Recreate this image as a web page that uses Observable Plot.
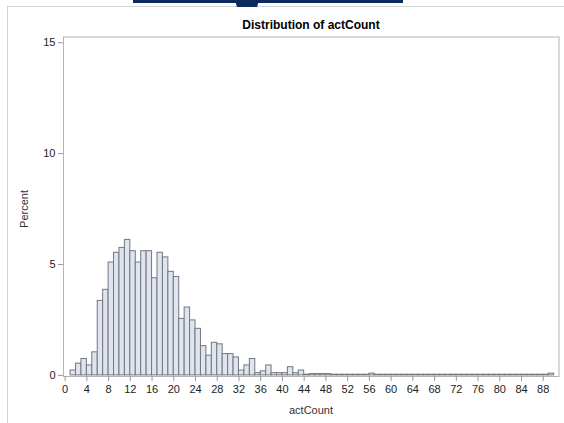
<!DOCTYPE html>
<html>
<head>
<meta charset="utf-8">
<script src="https://cdn.jsdelivr.net/npm/d3@7"></script>
<script src="https://cdn.jsdelivr.net/npm/@observablehq/plot@0.6"></script>
<style>
  html, body { margin: 0; padding: 0; background: #fff; }
  #wrap { position: relative; width: 564px; height: 423px; overflow: hidden; font-family: "Liberation Sans", Arial, sans-serif; }
  #chart { position: absolute; left: 0; top: 0; }
  .title { position: absolute; left: 63px; width: 496px; top: 18px; text-align: center; font-weight: bold; font-size: 12px; color: #000; }
  .xlab { position: absolute; left: 63px; width: 496px; top: 404px; text-align: center; font-size: 11px; color: #333; }
  .ylab { position: absolute; left: 24px; top: 209px; font-size: 11px; color: #333; transform: translate(-50%, -50%) rotate(-90deg); white-space: nowrap; }
  .border-v { position: absolute; left: 7px; top: 6px; width: 1px; height: 417px; background: #d4d4d4; }
  .border-h { position: absolute; left: 7px; top: 6px; width: 557px; height: 1px; background: #d4d4d4; }
  .banner { position: absolute; left: 133px; top: 0; width: 270px; height: 3px; background: #0d2a5e; }
  .notch { position: absolute; left: 235px; top: 0; width: 24px; height: 7px; background: #0d2a5e; clip-path: polygon(0 0, 100% 0, 92% 100%, 8% 100%); }
</style>
</head>
<body>
<div id="wrap">
  <div class="border-h"></div>
  <div class="border-v"></div>
  <div class="banner"></div>
  <div class="notch"></div>
  <div id="chart"></div>
  <div class="title">Distribution of actCount</div>
  <div class="xlab">actCount</div>
  <div class="ylab">Percent</div>
</div>
<script>
// Histogram bins of actCount (left edge of each bin, width 1)
const binStart = [0,1,2,3,4,5,6,7,8,9,10,11,12,13,14,15,16,17,18,19,20,21,22,23,24,25,26,27,28,29,
  30,31,32,33,34,35,36,37,38,39,40,41,42,43,44,45,46,47,48,49,50,51,52,53,54,55,56,57,58,59,
  60,61,62,63,64,65,66,67,68,69,70,71,72,73,74,75,76,77,78,79,80,81,82,83,84,85,86,87,88,89];
// Percent in each bin
const percent = [0,0.22,0.53,0.74,0.45,1.04,3.36,3.86,5.09,5.53,5.75,6.11,5.6,5.09,5.6,5.6,4.38,5.53,5.32,4.67,
  4.44,2.55,3.06,2.48,2.10,1.32,0.89,1.47,1.40,0.96,0.96,0.81,0.22,0.45,0.74,0.1,0.18,0.45,0.1,0.1,
  0.1,0.37,0.1,0.22,0.03,0.06,0.06,0.06,0.06,0.03,0.03,0.03,0.03,0.03,0.03,0.03,0.08,0.03,0.03,0.03,
  0.03,0.03,0.03,0.03,0.03,0.03,0.03,0.03,0.03,0.03,0.03,0.03,0.03,0.03,0.03,0.03,0.03,0.03,0.03,0.03,
  0.03,0.03,0.03,0.03,0.03,0.03,0.03,0.03,0.03,0.08];
const xTicks = [0,4,8,12,16,20,24,28,32,36,40,44,48,52,56,60,64,68,72,76,80,84,88];
const yTicks = [0,5,10,15];

const data = binStart.map((b, i) => ({bin: b, pct: percent[i]}));

const chart = Plot.plot({
  width: 564,
  height: 423,
  marginLeft: 63,
  marginRight: 5.5,
  marginTop: 36.5,
  marginBottom: 47,
  style: {fontFamily: "'Liberation Sans', Arial, sans-serif", fontSize: "11px", color: "#222", background: "transparent"},
  x: {domain: [-0.3, 90.9]},
  y: {domain: [-0.05, 15.26]},
  marks: [
    Plot.rectY(data, {x1: "bin", x2: d => d.bin + 1, y1: 0, y2: "pct", fill: "#dfe4ee", stroke: "#727780", strokeWidth: 1}),
    Plot.frame({stroke: "#b4b4b4"}),
    Plot.axisY({ticks: yTicks, tickSize: 5, tickPadding: 3, label: null, stroke: "#999", tickFormat: d => String(d)}),
    Plot.axisX({ticks: xTicks, tickSize: 5, tickPadding: 4, label: null, stroke: "#999", tickFormat: d => String(d)})
  ]
});
document.getElementById("chart").appendChild(chart);
</script>
</body>
</html>
